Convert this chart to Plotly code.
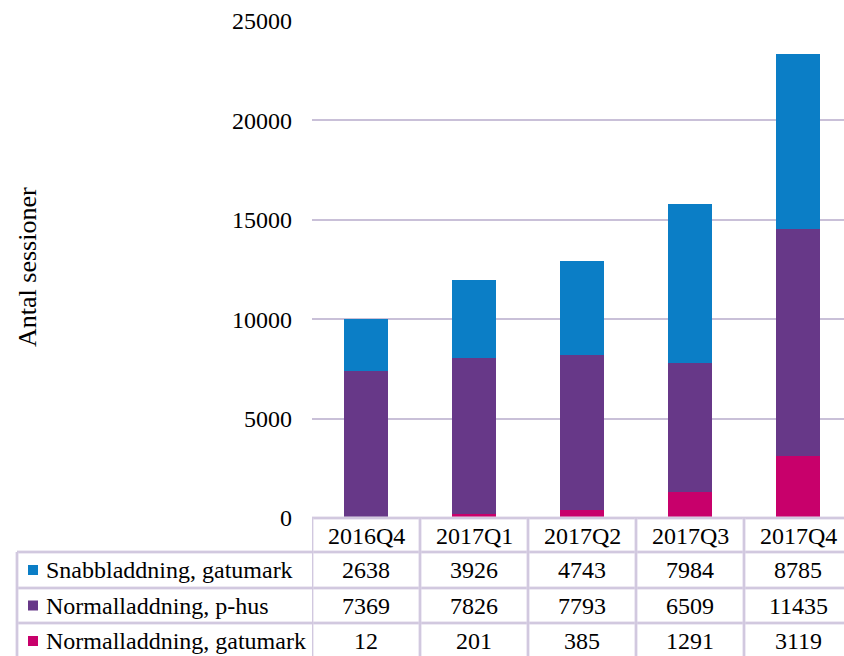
import plotly.graph_objects as go

W, H = 844, 656

quarters = ["2016Q4", "2017Q1", "2017Q2", "2017Q3", "2017Q4"]
series_names = ["Snabbladdning, gatumark", "Normalladdning, p-hus", "Normalladdning, gatumark"]
snabb = [2638, 3926, 4743, 7984, 8785]
phus = [7369, 7826, 7793, 6509, 11435]
gatu = [12, 201, 385, 1291, 3119]
y_ticks = [0, 5000, 10000, 15000, 20000, 25000]
y_title = "Antal sessioner"

colors = {"snabb": "#0B7EC6", "phus": "#673888", "gatu": "#C8006B"}
FONT = "Liberation Serif, Times New Roman, serif"
FS = 24


def px(x):
    return x / W


def py(y):
    return 1 - y / H


fig = go.Figure()
fig.add_trace(go.Bar(x=quarters, y=gatu, name=series_names[2], marker_color=colors["gatu"],
                     marker_line_width=0, width=0.4))
fig.add_trace(go.Bar(x=quarters, y=phus, name=series_names[1], marker_color=colors["phus"],
                     marker_line_width=0, width=0.4))
fig.add_trace(go.Bar(x=quarters, y=snabb, name=series_names[0], marker_color=colors["snabb"],
                     marker_line_width=0, width=0.4))

x_left_px = 312
cat_px = 108
x_right = -0.5 + (W - x_left_px) / cat_px

fig.update_layout(
    width=W, height=H,
    margin=dict(l=0, r=0, t=0, b=0, autoexpand=False),
    paper_bgcolor="white", plot_bgcolor="white",
    barmode="stack", showlegend=False,
    font=dict(family=FONT, size=FS, color="black"),
    xaxis=dict(domain=[px(x_left_px), 1], type="category", range=[-0.5, x_right],
               showticklabels=False, showgrid=False, zeroline=False, showline=False, ticks="",
               automargin=False),
    yaxis=dict(domain=[py(518), py(21)], range=[0, 25000], tickvals=y_ticks,
               ticktext=[str(v) for v in y_ticks], automargin=False,
               showgrid=True, gridcolor="#c9c0d8", gridwidth=1.5, zeroline=False,
               showline=False, ticks="", ticklabelstandoff=19,
               tickfont=dict(family=FONT, size=FS, color="black")),
)

shapes = []
LINE_OUT = dict(color="#ddd5e8", width=3)
LINE_IN = dict(color="#c6bcd6", width=1)


def hline(x0, x1, y, xref="paper"):
    for ln in (LINE_OUT, LINE_IN):
        shapes.append(dict(type="line", xref=xref, yref="paper", x0=x0, x1=x1,
                           y0=py(y), y1=py(y), line=ln, layer="above"))


def vline(x, y0, y1, xref="paper"):
    for ln in (LINE_OUT, LINE_IN):
        shapes.append(dict(type="line", xref=xref, yref="paper", x0=x, x1=x,
                           y0=py(y0), y1=py(y1), line=ln, layer="above"))


row_tops = [518, 552, 588, 623, 659]
hline(-0.5, len(quarters) - 0.5, row_tops[0], xref="x")
for yb in row_tops[1:4]:
    hline(px(17), 1.02, yb)
for i in range(len(quarters) + 1):
    vline(i - 0.5, row_tops[0], H + 5, xref="x")
vline(px(17), row_tops[1], H + 5)

annotations = []
for i, q in enumerate(quarters):
    annotations.append(dict(x=q, xref="x", y=py((row_tops[0] + row_tops[1]) / 2 + 1), yref="paper",
                            xanchor="center", yanchor="middle",
                            text=q, showarrow=False, font=dict(family=FONT, size=FS, color="black")))

table_rows = [(series_names[0], snabb, colors["snabb"]),
              (series_names[1], phus, colors["phus"]),
              (series_names[2], gatu, colors["gatu"])]
for r, (name, vals, col) in enumerate(table_rows):
    yc = (row_tops[r + 1] + row_tops[r + 2]) / 2
    shapes.append(dict(type="rect", xref="paper", yref="paper", x0=px(28), x1=px(38),
                       y0=py(yc - 5), y1=py(yc + 5), fillcolor=col, line=dict(width=0)))
    annotations.append(dict(x=px(44), xref="paper", y=py(yc), yref="paper", text=name,
                            xanchor="left", yanchor="middle", showarrow=False,
                            font=dict(family=FONT, size=FS, color="black")))
    for i, v in enumerate(vals):
        annotations.append(dict(x=quarters[i], xref="x", y=py(yc), yref="paper", text=str(v),
                                xanchor="center", yanchor="middle",
                                showarrow=False, font=dict(family=FONT, size=FS, color="black")))

annotations.append(dict(x=px(27), xref="paper", y=py(267), yref="paper", text=y_title,
                        xanchor="center", yanchor="middle",
                        textangle=-90, showarrow=False,
                        font=dict(family=FONT, size=26, color="black")))

fig.update_layout(shapes=shapes, annotations=annotations)
fig.write_html("out.html", config={"displayModeBar": False},
               post_script="document.body.style.margin='0';document.body.style.overflow='hidden';")
